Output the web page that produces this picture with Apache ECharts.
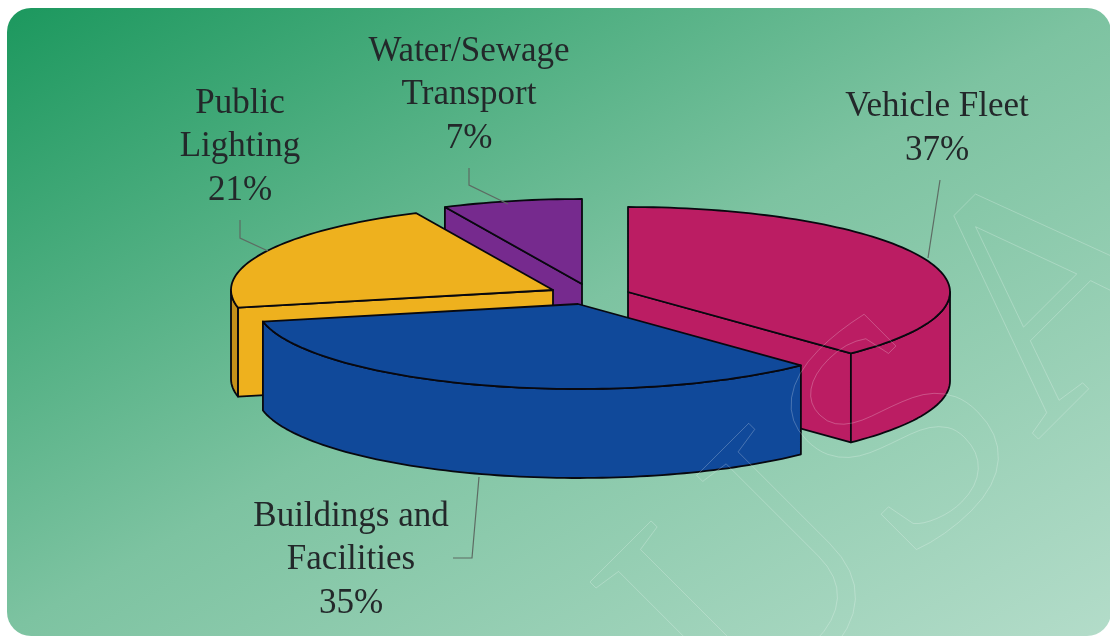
<!DOCTYPE html>
<html>
<head>
<meta charset="utf-8">
<style>
  html, body { margin: 0; padding: 0; background: #fff; }
  #chart { width: 1110px; height: 638px; }
</style>
<script src="https://cdn.jsdelivr.net/npm/echarts@6/dist/echarts.min.js"></script>
</head>
<body>
<div id="chart"></div>
<script>
const categories = ['Vehicle Fleet', 'Buildings and\nFacilities', 'Public\nLighting', 'Water/Sewage\nTransport'];
const shares = [37, 35, 21, 7];

// slice look and placement, same order as categories
const topColors = ['#bb1d63', '#10499a', '#eeb11e', '#762a8e'];
const wallColors = ['#bb1d63', '#10499a', '#c4901a', '#762a8e'];
const apexes = [[628, 292], [578, 304], [553, 290], [582, 284]];
const stacking = [2, 3, 1, 0];
const labelCenters = [[937, 129], [351, 560], [240, 147], [469, 95]];
const leaders = [
  [[940, 180], [928, 258]],
  [[479, 477], [472, 558], [453, 558]],
  [[240, 220], [240, 238], [268, 251]],
  [[469, 168], [469, 185], [508, 204]]
];

const RX = 322;
const RY = 85;
const DEPTH = 89;
const OUTLINE = '#08080f';

// the front half of the disc is drawn slightly stretched, like the perspective in the original
function warp(deg) {
  if (deg <= 90 || deg >= 270) return deg;
  return deg - 3 * Math.sin(2 * deg * Math.PI / 180);
}

function rim(apex, deg, drop) {
  const t = warp(deg) * Math.PI / 180;
  return [apex[0] + RX * Math.sin(t), apex[1] - RY * Math.cos(t) + (drop || 0)];
}

function arcPoints(apex, from, to, drop) {
  const pts = [];
  const steps = Math.max(2, Math.ceil((to - from) / 1.5));
  for (let k = 0; k <= steps; k++) pts.push(rim(apex, from + (to - from) * k / steps, drop));
  return pts;
}

function renderSlice(params, api) {
  const i = params.dataIndex;
  const before = shares.slice(0, i).reduce((a, b) => a + b, 0);
  const from = before / 100 * 360;
  const to = from + api.value(0) / 100 * 360;
  const apex = apexes[i];
  const base = stacking[i] * 10;
  const children = [];

  const poly = (points, fill, z) => ({
    type: 'polygon',
    z2: base + z,
    shape: { points },
    style: { fill, stroke: OUTLINE, lineWidth: 1.8, lineJoin: 'round' }
  });

  // cut faces, only those turned towards the viewer
  const cutFace = deg => poly(
    [apex, rim(apex, deg), rim(apex, deg, DEPTH), [apex[0], apex[1] + DEPTH]],
    topColors[i], 1
  );
  if (from > 180 && from < 360) children.push(cutFace(from));
  if (to > 0 && to < 180) children.push(cutFace(to));

  // outer wall, same idea
  const wallFrom = Math.max(from, 90);
  const wallTo = Math.min(to, 270);
  if (wallTo > wallFrom) {
    const upper = arcPoints(apex, wallFrom, wallTo, 0);
    const lower = arcPoints(apex, wallFrom, wallTo, DEPTH).reverse();
    children.push(poly(upper.concat(lower), wallColors[i], 2));
  }

  children.push(poly([apex].concat(arcPoints(apex, from, to, 0)), topColors[i], 3));

  children.push({
    type: 'polyline',
    z2: 50,
    shape: { points: leaders[i] },
    style: { fill: 'none', stroke: '#5d6b63', lineWidth: 1.2 }
  });
  children.push({
    type: 'text',
    z2: 60,
    style: {
      text: categories[i] + '\n' + api.value(0) + '%',
      x: labelCenters[i][0],
      y: labelCenters[i][1],
      align: 'center',
      verticalAlign: 'middle',
      font: '35px "Liberation Serif"',
      lineHeight: 43.5,
      fill: '#23282a'
    }
  });
  return { type: 'group', children };
}

const chart = echarts.init(document.getElementById('chart'), null, { renderer: 'canvas' });
chart.setOption({
  animation: false,
  graphic: [
    {
      type: 'rect',
      z: -10,
      shape: { x: 7, y: 8, width: 1104, height: 628, r: 24 },
      style: {
        fill: new echarts.graphic.LinearGradient(7, 8, 541, 955, [
          { offset: 0, color: '#1c985e' },
          { offset: 0.5, color: '#7dc3a1' },
          { offset: 1, color: '#b3dcc9' }
        ], true)
      }
    },
    {
      type: 'text',
      z: 100,
      x: 910,
      y: 445,
      rotation: Math.PI / 4,
      silent: true,
      style: {
        text: 'USA',
        x: 0,
        y: 0,
        align: 'center',
        verticalAlign: 'middle',
        font: '330px "Liberation Serif"',
        fill: 'transparent',
        stroke: 'rgba(255,255,255,0.32)',
        lineWidth: 0.7
      }
    }
  ],
  series: [{
    type: 'custom',
    coordinateSystem: 'none',
    renderItem: renderSlice,
    data: categories.map((name, i) => ({ name, value: [shares[i]] }))
  }]
});
</script>
</body>
</html>
